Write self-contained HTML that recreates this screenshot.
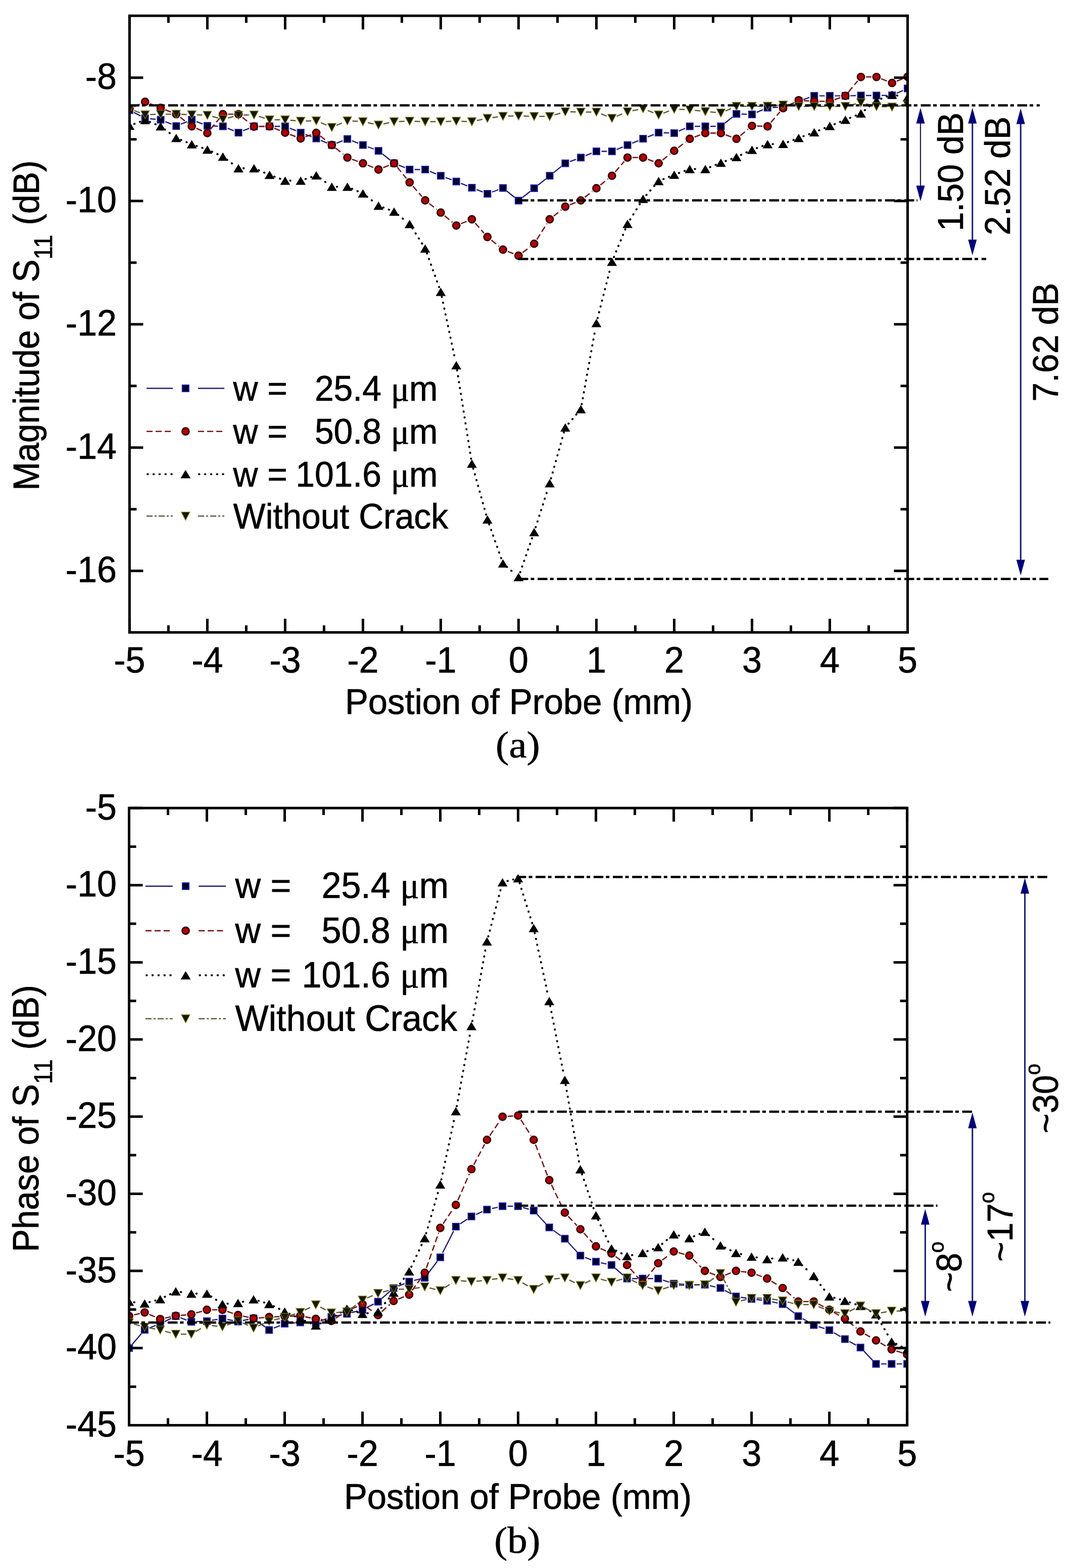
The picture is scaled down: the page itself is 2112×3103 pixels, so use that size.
<!DOCTYPE html>
<html><head><meta charset="utf-8"><title>S11 magnitude and phase vs probe position</title>
<style>html,body{margin:0;padding:0;background:#fff}svg{display:block}text{font-family:"Liberation Sans", Arial, sans-serif;fill:#000;stroke:#000;stroke-width:0.7px}</style></head>
<body><svg width="2112" height="3103" viewBox="0 0 2112 3103">
<rect width="2112" height="3103" fill="#fff"/>
<defs><clipPath id="ca"><rect x="256.4" y="31.2" width="1540.1" height="1220.3"/></clipPath><clipPath id="cb"><rect x="255.5" y="1599.1" width="1540.1" height="1221.4"/></clipPath></defs>
<g clip-path="url(#ca)">
<path d="M265.3,222.6L278.3,229.4M297.2,235.0L308.1,236.0M327.3,240.8L339.5,245.7M358.1,245.7L370.3,240.8M388.9,240.6L401.1,245.4M420.4,249.3L431.2,249.7M450.5,253.8L462.7,258.7M481.3,258.7L493.5,253.8M512.8,250.0L523.6,250.0M543.6,250.0L554.4,250.0M573.7,253.8L586.0,258.7M604.6,266.0L616.7,270.5M635.2,277.9L647.6,283.1M666.1,283.4L678.3,278.6M696.9,278.6L709.1,283.4M727.8,290.5L739.9,295.0M757.1,304.7L772.2,316.8M789.3,326.8L801.6,331.7M820.8,335.5L831.6,335.5M850.9,339.2L863.2,344.1M881.8,351.3L893.9,355.7M912.5,362.9L924.8,367.8M943.4,375.1L955.5,379.9M974.2,380.0L986.3,375.5M1003.4,378.3L1018.7,390.7M1034.3,390.8L1049.4,378.7M1065.1,366.2L1080.3,354.1M1095.9,341.6L1111.0,329.4M1128.2,319.7L1140.3,315.3M1158.9,308.1L1171.2,303.2M1190.5,299.5L1201.3,299.5M1220.5,295.8L1232.8,290.8M1251.3,283.3L1263.6,278.3M1282.2,270.8L1294.4,266.1M1313.7,262.7L1324.5,263.1M1343.6,259.4L1356.1,254.0M1375.3,250.0L1386.1,250.0M1406.1,250.0L1416.9,250.0M1434.7,243.8L1449.9,231.6M1467.7,225.7L1478.5,226.1M1497.7,222.4L1510.1,217.1M1529.3,212.7L1540.1,212.4M1559.4,208.4L1571.6,203.6M1590.4,196.8L1602.2,192.8M1621.7,189.6L1632.5,189.6M1652.5,189.6L1663.3,189.6M1683.3,189.4L1694.1,189.2M1714.1,189.0L1724.9,189.0M1744.9,188.9L1755.7,188.7M1774.8,184.6L1787.4,179.0" fill="none" stroke="#1e1e72" stroke-width="2.4"/>
<rect x="249.9" y="211.5" width="13" height="13" fill="#000028" stroke="#1a1aa8" stroke-width="2"/>
<rect x="280.7" y="227.5" width="13" height="13" fill="#000028" stroke="#1a1aa8" stroke-width="2"/>
<rect x="311.5" y="230.5" width="13" height="13" fill="#000028" stroke="#1a1aa8" stroke-width="2"/>
<rect x="342.3" y="243.0" width="13" height="13" fill="#000028" stroke="#1a1aa8" stroke-width="2"/>
<rect x="373.1" y="230.5" width="13" height="13" fill="#000028" stroke="#1a1aa8" stroke-width="2"/>
<rect x="403.9" y="242.5" width="13" height="13" fill="#000028" stroke="#1a1aa8" stroke-width="2"/>
<rect x="434.7" y="243.5" width="13" height="13" fill="#000028" stroke="#1a1aa8" stroke-width="2"/>
<rect x="465.5" y="256.0" width="13" height="13" fill="#000028" stroke="#1a1aa8" stroke-width="2"/>
<rect x="496.3" y="243.5" width="13" height="13" fill="#000028" stroke="#1a1aa8" stroke-width="2"/>
<rect x="527.1" y="243.5" width="13" height="13" fill="#000028" stroke="#1a1aa8" stroke-width="2"/>
<rect x="557.9" y="243.5" width="13" height="13" fill="#000028" stroke="#1a1aa8" stroke-width="2"/>
<rect x="588.7" y="256.0" width="13" height="13" fill="#000028" stroke="#1a1aa8" stroke-width="2"/>
<rect x="619.5" y="267.5" width="13" height="13" fill="#000028" stroke="#1a1aa8" stroke-width="2"/>
<rect x="650.3" y="280.5" width="13" height="13" fill="#000028" stroke="#1a1aa8" stroke-width="2"/>
<rect x="681.1" y="268.5" width="13" height="13" fill="#000028" stroke="#1a1aa8" stroke-width="2"/>
<rect x="711.9" y="280.5" width="13" height="13" fill="#000028" stroke="#1a1aa8" stroke-width="2"/>
<rect x="742.7" y="292.0" width="13" height="13" fill="#000028" stroke="#1a1aa8" stroke-width="2"/>
<rect x="773.5" y="316.5" width="13" height="13" fill="#000028" stroke="#1a1aa8" stroke-width="2"/>
<rect x="804.3" y="329.0" width="13" height="13" fill="#000028" stroke="#1a1aa8" stroke-width="2"/>
<rect x="835.1" y="329.0" width="13" height="13" fill="#000028" stroke="#1a1aa8" stroke-width="2"/>
<rect x="865.9" y="341.3" width="13" height="13" fill="#000028" stroke="#1a1aa8" stroke-width="2"/>
<rect x="896.7" y="352.7" width="13" height="13" fill="#000028" stroke="#1a1aa8" stroke-width="2"/>
<rect x="927.5" y="365.0" width="13" height="13" fill="#000028" stroke="#1a1aa8" stroke-width="2"/>
<rect x="958.3" y="377.0" width="13" height="13" fill="#000028" stroke="#1a1aa8" stroke-width="2"/>
<rect x="989.1" y="365.5" width="13" height="13" fill="#000028" stroke="#1a1aa8" stroke-width="2"/>
<rect x="1019.9" y="390.5" width="13" height="13" fill="#000028" stroke="#1a1aa8" stroke-width="2"/>
<rect x="1050.8" y="366.0" width="13" height="13" fill="#000028" stroke="#1a1aa8" stroke-width="2"/>
<rect x="1081.6" y="341.3" width="13" height="13" fill="#000028" stroke="#1a1aa8" stroke-width="2"/>
<rect x="1112.4" y="316.7" width="13" height="13" fill="#000028" stroke="#1a1aa8" stroke-width="2"/>
<rect x="1143.2" y="305.3" width="13" height="13" fill="#000028" stroke="#1a1aa8" stroke-width="2"/>
<rect x="1174.0" y="293.0" width="13" height="13" fill="#000028" stroke="#1a1aa8" stroke-width="2"/>
<rect x="1204.8" y="293.0" width="13" height="13" fill="#000028" stroke="#1a1aa8" stroke-width="2"/>
<rect x="1235.6" y="280.6" width="13" height="13" fill="#000028" stroke="#1a1aa8" stroke-width="2"/>
<rect x="1266.4" y="268.0" width="13" height="13" fill="#000028" stroke="#1a1aa8" stroke-width="2"/>
<rect x="1297.2" y="255.9" width="13" height="13" fill="#000028" stroke="#1a1aa8" stroke-width="2"/>
<rect x="1328.0" y="256.9" width="13" height="13" fill="#000028" stroke="#1a1aa8" stroke-width="2"/>
<rect x="1358.8" y="243.5" width="13" height="13" fill="#000028" stroke="#1a1aa8" stroke-width="2"/>
<rect x="1389.6" y="243.5" width="13" height="13" fill="#000028" stroke="#1a1aa8" stroke-width="2"/>
<rect x="1420.4" y="243.5" width="13" height="13" fill="#000028" stroke="#1a1aa8" stroke-width="2"/>
<rect x="1451.2" y="218.9" width="13" height="13" fill="#000028" stroke="#1a1aa8" stroke-width="2"/>
<rect x="1482.0" y="219.9" width="13" height="13" fill="#000028" stroke="#1a1aa8" stroke-width="2"/>
<rect x="1512.8" y="206.6" width="13" height="13" fill="#000028" stroke="#1a1aa8" stroke-width="2"/>
<rect x="1543.6" y="205.5" width="13" height="13" fill="#000028" stroke="#1a1aa8" stroke-width="2"/>
<rect x="1574.4" y="193.5" width="13" height="13" fill="#000028" stroke="#1a1aa8" stroke-width="2"/>
<rect x="1605.2" y="183.1" width="13" height="13" fill="#000028" stroke="#1a1aa8" stroke-width="2"/>
<rect x="1636.0" y="183.1" width="13" height="13" fill="#000028" stroke="#1a1aa8" stroke-width="2"/>
<rect x="1666.8" y="183.1" width="13" height="13" fill="#000028" stroke="#1a1aa8" stroke-width="2"/>
<rect x="1697.6" y="182.5" width="13" height="13" fill="#000028" stroke="#1a1aa8" stroke-width="2"/>
<rect x="1728.4" y="182.5" width="13" height="13" fill="#000028" stroke="#1a1aa8" stroke-width="2"/>
<rect x="1759.2" y="182.1" width="13" height="13" fill="#000028" stroke="#1a1aa8" stroke-width="2"/>
<rect x="1790.0" y="168.5" width="13" height="13" fill="#000028" stroke="#1a1aa8" stroke-width="2"/>
<path d="M265.6,211.0L278.0,205.5M296.5,205.1L308.7,209.9M327.3,217.3L339.5,222.2M356.7,232.1L371.7,243.9M388.8,254.0L401.2,259.4M416.8,255.7L434.9,233.7M451.2,226.0L462.0,226.0M479.8,232.2L495.0,244.3M512.8,250.3L523.6,250.2M542.9,253.8L555.2,258.7M573.8,266.0L585.9,270.5M604.6,270.6L616.6,266.4M633.9,269.1L648.9,280.9M664.6,293.3L679.8,305.5M697.0,315.3L709.1,319.7M727.7,326.9L739.9,331.8M758.5,331.8L770.7,326.9M786.4,331.0L804.5,353.2M817.4,368.6L835.1,388.9M849.5,402.7L864.6,414.5M880.1,427.1L895.6,439.9M912.5,442.6L924.8,437.7M940.7,441.5L958.2,461.5M972.6,475.3L987.9,487.7M1005.0,497.6L1017.1,502.4M1034.4,499.9L1049.3,488.5M1062.6,474.0L1082.7,442.4M1095.8,427.7L1111.1,415.3M1128.1,405.3L1140.4,400.3M1157.5,390.4L1172.6,378.7M1188.3,366.2L1203.5,354.1M1217.8,340.2L1235.6,319.4M1252.1,311.8L1262.9,311.8M1282.3,315.2L1294.3,319.7M1311.5,316.8L1326.7,304.7M1342.4,292.3L1357.3,280.8M1374.7,271.3L1386.7,266.8M1406.1,263.4L1416.9,263.4M1436.3,266.8L1448.3,271.3M1465.4,268.3L1480.8,255.5M1498.5,249.4L1509.3,249.7M1525.8,242.4L1543.6,221.6M1559.0,209.5L1572.0,203.0M1590.9,199.1L1601.7,199.9M1621.7,200.5L1632.5,200.5M1651.9,197.2L1663.9,192.9M1679.7,181.9L1697.7,160.0M1714.1,152.3L1724.9,152.3M1744.2,155.9L1756.4,160.6M1775.0,160.5L1787.2,155.7" fill="none" stroke="#781818" stroke-width="2.6" stroke-dasharray="12 6"/>
<circle cx="256.4" cy="215.0" r="7" fill="#b40000" stroke="#340000" stroke-width="2.8"/>
<circle cx="287.2" cy="201.5" r="7" fill="#b40000" stroke="#340000" stroke-width="2.8"/>
<circle cx="318.0" cy="213.5" r="7" fill="#b40000" stroke="#340000" stroke-width="2.8"/>
<circle cx="348.8" cy="226.0" r="7" fill="#b40000" stroke="#340000" stroke-width="2.8"/>
<circle cx="379.6" cy="250.0" r="7" fill="#b40000" stroke="#340000" stroke-width="2.8"/>
<circle cx="410.4" cy="263.4" r="7" fill="#b40000" stroke="#340000" stroke-width="2.8"/>
<circle cx="441.2" cy="226.0" r="7" fill="#b40000" stroke="#340000" stroke-width="2.8"/>
<circle cx="472.0" cy="226.0" r="7" fill="#b40000" stroke="#340000" stroke-width="2.8"/>
<circle cx="502.8" cy="250.5" r="7" fill="#b40000" stroke="#340000" stroke-width="2.8"/>
<circle cx="533.6" cy="250.0" r="7" fill="#b40000" stroke="#340000" stroke-width="2.8"/>
<circle cx="564.4" cy="262.5" r="7" fill="#b40000" stroke="#340000" stroke-width="2.8"/>
<circle cx="595.2" cy="274.0" r="7" fill="#b40000" stroke="#340000" stroke-width="2.8"/>
<circle cx="626.0" cy="263.0" r="7" fill="#b40000" stroke="#340000" stroke-width="2.8"/>
<circle cx="656.8" cy="287.0" r="7" fill="#b40000" stroke="#340000" stroke-width="2.8"/>
<circle cx="687.6" cy="311.8" r="7" fill="#b40000" stroke="#340000" stroke-width="2.8"/>
<circle cx="718.4" cy="323.2" r="7" fill="#b40000" stroke="#340000" stroke-width="2.8"/>
<circle cx="749.2" cy="335.5" r="7" fill="#b40000" stroke="#340000" stroke-width="2.8"/>
<circle cx="780.0" cy="323.2" r="7" fill="#b40000" stroke="#340000" stroke-width="2.8"/>
<circle cx="810.8" cy="361.0" r="7" fill="#b40000" stroke="#340000" stroke-width="2.8"/>
<circle cx="841.6" cy="396.5" r="7" fill="#b40000" stroke="#340000" stroke-width="2.8"/>
<circle cx="872.4" cy="420.7" r="7" fill="#b40000" stroke="#340000" stroke-width="2.8"/>
<circle cx="903.2" cy="446.3" r="7" fill="#b40000" stroke="#340000" stroke-width="2.8"/>
<circle cx="934.0" cy="434.0" r="7" fill="#b40000" stroke="#340000" stroke-width="2.8"/>
<circle cx="964.8" cy="469.0" r="7" fill="#b40000" stroke="#340000" stroke-width="2.8"/>
<circle cx="995.6" cy="494.0" r="7" fill="#b40000" stroke="#340000" stroke-width="2.8"/>
<circle cx="1026.4" cy="506.0" r="7" fill="#b40000" stroke="#340000" stroke-width="2.8"/>
<circle cx="1057.3" cy="482.4" r="7" fill="#b40000" stroke="#340000" stroke-width="2.8"/>
<circle cx="1088.1" cy="434.0" r="7" fill="#b40000" stroke="#340000" stroke-width="2.8"/>
<circle cx="1118.9" cy="409.0" r="7" fill="#b40000" stroke="#340000" stroke-width="2.8"/>
<circle cx="1149.7" cy="396.6" r="7" fill="#b40000" stroke="#340000" stroke-width="2.8"/>
<circle cx="1180.5" cy="372.5" r="7" fill="#b40000" stroke="#340000" stroke-width="2.8"/>
<circle cx="1211.3" cy="347.8" r="7" fill="#b40000" stroke="#340000" stroke-width="2.8"/>
<circle cx="1242.1" cy="311.8" r="7" fill="#b40000" stroke="#340000" stroke-width="2.8"/>
<circle cx="1272.9" cy="311.8" r="7" fill="#b40000" stroke="#340000" stroke-width="2.8"/>
<circle cx="1303.7" cy="323.1" r="7" fill="#b40000" stroke="#340000" stroke-width="2.8"/>
<circle cx="1334.5" cy="298.4" r="7" fill="#b40000" stroke="#340000" stroke-width="2.8"/>
<circle cx="1365.3" cy="274.7" r="7" fill="#b40000" stroke="#340000" stroke-width="2.8"/>
<circle cx="1396.1" cy="263.4" r="7" fill="#b40000" stroke="#340000" stroke-width="2.8"/>
<circle cx="1426.9" cy="263.4" r="7" fill="#b40000" stroke="#340000" stroke-width="2.8"/>
<circle cx="1457.7" cy="274.7" r="7" fill="#b40000" stroke="#340000" stroke-width="2.8"/>
<circle cx="1488.5" cy="249.1" r="7" fill="#b40000" stroke="#340000" stroke-width="2.8"/>
<circle cx="1519.3" cy="250.0" r="7" fill="#b40000" stroke="#340000" stroke-width="2.8"/>
<circle cx="1550.1" cy="214.0" r="7" fill="#b40000" stroke="#340000" stroke-width="2.8"/>
<circle cx="1580.9" cy="198.5" r="7" fill="#b40000" stroke="#340000" stroke-width="2.8"/>
<circle cx="1611.7" cy="200.5" r="7" fill="#b40000" stroke="#340000" stroke-width="2.8"/>
<circle cx="1642.5" cy="200.5" r="7" fill="#b40000" stroke="#340000" stroke-width="2.8"/>
<circle cx="1673.3" cy="189.6" r="7" fill="#b40000" stroke="#340000" stroke-width="2.8"/>
<circle cx="1704.1" cy="152.3" r="7" fill="#b40000" stroke="#340000" stroke-width="2.8"/>
<circle cx="1734.9" cy="152.3" r="7" fill="#b40000" stroke="#340000" stroke-width="2.8"/>
<circle cx="1765.7" cy="164.2" r="7" fill="#b40000" stroke="#340000" stroke-width="2.8"/>
<circle cx="1796.5" cy="152.0" r="7" fill="#b40000" stroke="#340000" stroke-width="2.8"/>
<path d="M265.8,245.3L277.8,240.9M296.5,241.3L308.7,246.2M326.0,256.0L340.8,267.0M358.1,276.8L370.4,281.8M389.1,288.8L400.9,292.8M419.5,300.1L432.1,305.9M449.2,316.0L464.0,327.0M482.0,333.0L492.8,333.0M512.0,336.9L524.4,342.1M543.0,349.5L555.1,354.0M574.4,357.5L585.2,357.5M604.7,354.3L616.6,350.2M634.1,352.9L648.8,363.7M666.8,369.6L677.6,369.6M696.8,373.5L709.2,378.9M726.3,389.0L741.4,400.8M758.6,410.6L770.7,415.2M787.8,425.0L803.0,437.2M816.2,451.8L836.3,483.4M845.0,501.2L869.1,568.1M874.5,587.3L901.2,712.9M904.8,732.6L932.5,907.7M936.7,927.2L962.2,1018.4M968.2,1037.4L992.3,1105.6M1003.2,1121.6L1018.9,1135.4M1029.7,1132.5L1054.0,1062.5M1060.3,1043.5L1085.0,965.9M1090.7,946.8L1116.2,855.6M1125.3,838.4L1143.2,817.3M1151.4,799.9L1178.7,649.1M1182.9,629.6L1208.8,527.7M1215.1,508.7L1238.3,452.3M1247.3,434.5L1267.6,402.0M1279.4,386.0L1297.1,365.7M1313.0,354.5L1325.2,349.6M1343.8,342.4L1355.9,338.0M1375.3,334.5L1386.1,334.5M1405.4,330.8L1417.6,325.8M1436.3,318.7L1448.3,314.2M1466.7,306.6L1479.4,300.7M1497.9,293.1L1509.9,288.6M1529.3,285.1L1540.1,284.9M1559.4,281.2L1571.5,276.6M1590.3,269.6L1602.3,265.1M1621.0,258.0L1633.2,253.1M1651.8,245.7L1664.0,240.7M1682.6,233.2L1694.8,228.3M1711.8,218.1L1727.2,205.4M1744.2,195.4L1756.3,190.9M1775.6,189.0L1786.6,190.9" fill="none" stroke="#000000" stroke-width="3.9" stroke-dasharray="0.6 11.2" stroke-linecap="round"/>
<path d="M256.4,240.4L266.3,256.9L246.5,256.9Z" fill="#000"/>
<path d="M287.2,229.2L297.1,245.7L277.3,245.7Z" fill="#000"/>
<path d="M318.0,241.7L327.9,258.2L308.1,258.2Z" fill="#000"/>
<path d="M348.8,264.7L358.7,281.2L338.9,281.2Z" fill="#000"/>
<path d="M379.6,277.3L389.5,293.8L369.7,293.8Z" fill="#000"/>
<path d="M410.4,287.7L420.3,304.2L400.5,304.2Z" fill="#000"/>
<path d="M441.2,301.7L451.1,318.2L431.3,318.2Z" fill="#000"/>
<path d="M472.0,324.7L481.9,341.2L462.1,341.2Z" fill="#000"/>
<path d="M502.8,324.7L512.7,341.2L492.9,341.2Z" fill="#000"/>
<path d="M533.6,337.7L543.5,354.2L523.7,354.2Z" fill="#000"/>
<path d="M564.4,349.2L574.3,365.7L554.5,365.7Z" fill="#000"/>
<path d="M595.2,349.2L605.1,365.7L585.3,365.7Z" fill="#000"/>
<path d="M626.0,338.7L635.9,355.2L616.1,355.2Z" fill="#000"/>
<path d="M656.8,361.3L666.7,377.8L646.9,377.8Z" fill="#000"/>
<path d="M687.6,361.3L697.5,377.8L677.7,377.8Z" fill="#000"/>
<path d="M718.4,374.5L728.3,391.0L708.5,391.0Z" fill="#000"/>
<path d="M749.2,398.7L759.1,415.2L739.3,415.2Z" fill="#000"/>
<path d="M780.0,410.5L789.9,427.0L770.1,427.0Z" fill="#000"/>
<path d="M810.8,435.1L820.7,451.6L800.9,451.6Z" fill="#000"/>
<path d="M841.6,483.5L851.5,500.0L831.7,500.0Z" fill="#000"/>
<path d="M872.4,569.2L882.3,585.7L862.5,585.7Z" fill="#000"/>
<path d="M903.2,714.4L913.1,730.9L893.3,730.9Z" fill="#000"/>
<path d="M934.0,909.3L943.9,925.8L924.1,925.8Z" fill="#000"/>
<path d="M964.8,1019.7L974.7,1036.2L954.9,1036.2Z" fill="#000"/>
<path d="M995.6,1106.7L1005.5,1123.2L985.7,1123.2Z" fill="#000"/>
<path d="M1026.4,1133.7L1036.3,1150.2L1016.5,1150.2Z" fill="#000"/>
<path d="M1057.3,1044.7L1067.2,1061.2L1047.4,1061.2Z" fill="#000"/>
<path d="M1088.1,948.1L1098.0,964.6L1078.2,964.6Z" fill="#000"/>
<path d="M1118.9,837.7L1128.8,854.2L1109.0,854.2Z" fill="#000"/>
<path d="M1149.7,801.4L1159.6,817.9L1139.8,817.9Z" fill="#000"/>
<path d="M1180.5,631.0L1190.4,647.5L1170.6,647.5Z" fill="#000"/>
<path d="M1211.3,509.7L1221.2,526.2L1201.4,526.2Z" fill="#000"/>
<path d="M1242.1,434.7L1252.0,451.2L1232.2,451.2Z" fill="#000"/>
<path d="M1272.9,385.2L1282.8,401.7L1263.0,401.7Z" fill="#000"/>
<path d="M1303.7,349.9L1313.6,366.4L1293.8,366.4Z" fill="#000"/>
<path d="M1334.5,337.6L1344.4,354.1L1324.6,354.1Z" fill="#000"/>
<path d="M1365.3,326.2L1375.2,342.7L1355.4,342.7Z" fill="#000"/>
<path d="M1396.1,326.2L1406.0,342.7L1386.2,342.7Z" fill="#000"/>
<path d="M1426.9,313.8L1436.8,330.3L1417.0,330.3Z" fill="#000"/>
<path d="M1457.7,302.5L1467.6,319.0L1447.8,319.0Z" fill="#000"/>
<path d="M1488.5,288.2L1498.4,304.7L1478.6,304.7Z" fill="#000"/>
<path d="M1519.3,276.9L1529.2,293.4L1509.4,293.4Z" fill="#000"/>
<path d="M1550.1,276.5L1560.0,293.0L1540.2,293.0Z" fill="#000"/>
<path d="M1580.9,264.7L1590.8,281.2L1571.0,281.2Z" fill="#000"/>
<path d="M1611.7,253.4L1621.6,269.9L1601.8,269.9Z" fill="#000"/>
<path d="M1642.5,241.1L1652.4,257.6L1632.6,257.6Z" fill="#000"/>
<path d="M1673.3,228.7L1683.2,245.2L1663.4,245.2Z" fill="#000"/>
<path d="M1704.1,216.2L1714.0,232.7L1694.2,232.7Z" fill="#000"/>
<path d="M1734.9,190.7L1744.8,207.2L1725.0,207.2Z" fill="#000"/>
<path d="M1765.7,179.0L1775.6,195.5L1755.8,195.5Z" fill="#000"/>
<path d="M1796.5,184.3L1806.4,200.8L1786.6,200.8Z" fill="#000"/>
<path d="M265.8,218.9L277.8,223.5M297.2,226.7L308.0,226.3M328.0,226.0L338.8,226.0M358.8,226.3L369.6,226.7M389.6,227.3L400.4,227.7M420.1,230.5L431.5,233.5M450.9,233.5L462.3,230.5M482.0,227.8L492.8,227.6M512.4,230.4L524.1,234.0M543.6,237.0L554.4,237.0M574.4,237.9L585.3,238.8M605.2,239.5L616.0,239.2M635.2,242.9L647.6,248.1M666.0,248.1L678.4,242.9M697.6,239.6L708.4,240.1M728.2,242.8L739.5,245.2M759.0,245.2L770.3,242.8M790.0,240.4L800.8,240.0M820.8,240.0L831.6,240.4M851.6,240.7L862.4,240.7M882.4,240.4L893.2,240.0M913.2,240.0L924.0,240.4M943.8,238.6L955.1,236.1M974.8,232.7L985.7,231.3M1005.6,229.8L1016.5,229.5M1036.4,229.6L1047.3,230.0M1067.3,230.3L1078.1,230.3M1097.6,227.4L1109.3,223.9M1128.9,221.2L1139.7,221.5M1159.7,221.7L1170.5,221.7M1189.7,225.4L1202.0,230.3M1220.5,230.1L1232.9,224.9M1251.9,219.1L1263.1,216.9M1282.2,218.7L1294.4,223.6M1313.1,223.9L1325.1,219.4M1344.5,216.3L1355.3,216.7M1375.2,218.2L1386.1,219.5M1406.0,221.6L1416.9,222.6M1436.1,219.6L1448.5,214.2M1467.7,210.3L1478.5,210.3M1498.5,210.2L1509.3,210.1M1529.3,209.3L1540.1,208.4M1560.0,208.6L1570.9,209.6M1590.9,210.5L1601.7,210.5M1621.7,210.5L1632.5,210.5M1652.5,210.5L1663.3,210.5M1683.0,208.2L1694.4,205.5M1713.8,205.6L1725.2,208.3M1744.9,211.0L1755.7,211.3M1775.6,210.3L1786.6,208.9" fill="none" stroke="#5e5e38" stroke-width="2.5" stroke-dasharray="12 4 4 4"/>
<path d="M256.4,223.6L264.8,207.6L248.0,207.6Z" fill="#161600" stroke="#7d7d12" stroke-width="1.3"/>
<path d="M287.2,235.2L295.6,219.2L278.8,219.2Z" fill="#161600" stroke="#7d7d12" stroke-width="1.3"/>
<path d="M318.0,234.2L326.4,218.2L309.6,218.2Z" fill="#161600" stroke="#7d7d12" stroke-width="1.3"/>
<path d="M348.8,234.2L357.2,218.2L340.4,218.2Z" fill="#161600" stroke="#7d7d12" stroke-width="1.3"/>
<path d="M379.6,235.2L388.0,219.2L371.2,219.2Z" fill="#161600" stroke="#7d7d12" stroke-width="1.3"/>
<path d="M410.4,236.2L418.8,220.2L402.0,220.2Z" fill="#161600" stroke="#7d7d12" stroke-width="1.3"/>
<path d="M441.2,244.2L449.6,228.2L432.8,228.2Z" fill="#161600" stroke="#7d7d12" stroke-width="1.3"/>
<path d="M472.0,236.2L480.4,220.2L463.6,220.2Z" fill="#161600" stroke="#7d7d12" stroke-width="1.3"/>
<path d="M502.8,235.6L511.2,219.6L494.4,219.6Z" fill="#161600" stroke="#7d7d12" stroke-width="1.3"/>
<path d="M533.6,245.2L542.0,229.2L525.2,229.2Z" fill="#161600" stroke="#7d7d12" stroke-width="1.3"/>
<path d="M564.4,245.2L572.8,229.2L556.0,229.2Z" fill="#161600" stroke="#7d7d12" stroke-width="1.3"/>
<path d="M595.2,247.9L603.6,231.9L586.8,231.9Z" fill="#161600" stroke="#7d7d12" stroke-width="1.3"/>
<path d="M626.0,247.2L634.4,231.2L617.6,231.2Z" fill="#161600" stroke="#7d7d12" stroke-width="1.3"/>
<path d="M656.8,260.2L665.2,244.2L648.4,244.2Z" fill="#161600" stroke="#7d7d12" stroke-width="1.3"/>
<path d="M687.6,247.2L696.0,231.2L679.2,231.2Z" fill="#161600" stroke="#7d7d12" stroke-width="1.3"/>
<path d="M718.4,248.9L726.8,232.9L710.0,232.9Z" fill="#161600" stroke="#7d7d12" stroke-width="1.3"/>
<path d="M749.2,255.5L757.6,239.5L740.8,239.5Z" fill="#161600" stroke="#7d7d12" stroke-width="1.3"/>
<path d="M780.0,248.9L788.4,232.9L771.6,232.9Z" fill="#161600" stroke="#7d7d12" stroke-width="1.3"/>
<path d="M810.8,247.9L819.2,231.9L802.4,231.9Z" fill="#161600" stroke="#7d7d12" stroke-width="1.3"/>
<path d="M841.6,248.9L850.0,232.9L833.2,232.9Z" fill="#161600" stroke="#7d7d12" stroke-width="1.3"/>
<path d="M872.4,248.9L880.8,232.9L864.0,232.9Z" fill="#161600" stroke="#7d7d12" stroke-width="1.3"/>
<path d="M903.2,247.9L911.6,231.9L894.8,231.9Z" fill="#161600" stroke="#7d7d12" stroke-width="1.3"/>
<path d="M934.0,248.9L942.4,232.9L925.6,232.9Z" fill="#161600" stroke="#7d7d12" stroke-width="1.3"/>
<path d="M964.8,242.2L973.2,226.2L956.4,226.2Z" fill="#161600" stroke="#7d7d12" stroke-width="1.3"/>
<path d="M995.6,238.2L1004.0,222.2L987.2,222.2Z" fill="#161600" stroke="#7d7d12" stroke-width="1.3"/>
<path d="M1026.4,237.5L1034.8,221.5L1018.0,221.5Z" fill="#161600" stroke="#7d7d12" stroke-width="1.3"/>
<path d="M1057.3,238.5L1065.7,222.5L1048.9,222.5Z" fill="#161600" stroke="#7d7d12" stroke-width="1.3"/>
<path d="M1088.1,238.5L1096.5,222.5L1079.7,222.5Z" fill="#161600" stroke="#7d7d12" stroke-width="1.3"/>
<path d="M1118.9,229.2L1127.3,213.2L1110.5,213.2Z" fill="#161600" stroke="#7d7d12" stroke-width="1.3"/>
<path d="M1149.7,229.9L1158.1,213.9L1141.3,213.9Z" fill="#161600" stroke="#7d7d12" stroke-width="1.3"/>
<path d="M1180.5,229.9L1188.9,213.9L1172.1,213.9Z" fill="#161600" stroke="#7d7d12" stroke-width="1.3"/>
<path d="M1211.3,242.2L1219.7,226.2L1202.9,226.2Z" fill="#161600" stroke="#7d7d12" stroke-width="1.3"/>
<path d="M1242.1,229.2L1250.5,213.2L1233.7,213.2Z" fill="#161600" stroke="#7d7d12" stroke-width="1.3"/>
<path d="M1272.9,223.2L1281.3,207.2L1264.5,207.2Z" fill="#161600" stroke="#7d7d12" stroke-width="1.3"/>
<path d="M1303.7,235.5L1312.1,219.5L1295.3,219.5Z" fill="#161600" stroke="#7d7d12" stroke-width="1.3"/>
<path d="M1334.5,224.2L1342.9,208.2L1326.1,208.2Z" fill="#161600" stroke="#7d7d12" stroke-width="1.3"/>
<path d="M1365.3,225.2L1373.7,209.2L1356.9,209.2Z" fill="#161600" stroke="#7d7d12" stroke-width="1.3"/>
<path d="M1396.1,228.9L1404.5,212.9L1387.7,212.9Z" fill="#161600" stroke="#7d7d12" stroke-width="1.3"/>
<path d="M1426.9,231.7L1435.3,215.7L1418.5,215.7Z" fill="#161600" stroke="#7d7d12" stroke-width="1.3"/>
<path d="M1457.7,218.5L1466.1,202.5L1449.3,202.5Z" fill="#161600" stroke="#7d7d12" stroke-width="1.3"/>
<path d="M1488.5,218.5L1496.9,202.5L1480.1,202.5Z" fill="#161600" stroke="#7d7d12" stroke-width="1.3"/>
<path d="M1519.3,218.2L1527.7,202.2L1510.9,202.2Z" fill="#161600" stroke="#7d7d12" stroke-width="1.3"/>
<path d="M1550.1,215.9L1558.5,199.9L1541.7,199.9Z" fill="#161600" stroke="#7d7d12" stroke-width="1.3"/>
<path d="M1580.9,218.7L1589.3,202.7L1572.5,202.7Z" fill="#161600" stroke="#7d7d12" stroke-width="1.3"/>
<path d="M1611.7,218.7L1620.1,202.7L1603.3,202.7Z" fill="#161600" stroke="#7d7d12" stroke-width="1.3"/>
<path d="M1642.5,218.7L1650.9,202.7L1634.1,202.7Z" fill="#161600" stroke="#7d7d12" stroke-width="1.3"/>
<path d="M1673.3,218.7L1681.7,202.7L1664.9,202.7Z" fill="#161600" stroke="#7d7d12" stroke-width="1.3"/>
<path d="M1704.1,211.4L1712.5,195.4L1695.7,195.4Z" fill="#161600" stroke="#7d7d12" stroke-width="1.3"/>
<path d="M1734.9,218.9L1743.3,202.9L1726.5,202.9Z" fill="#161600" stroke="#7d7d12" stroke-width="1.3"/>
<path d="M1765.7,219.8L1774.1,203.8L1757.3,203.8Z" fill="#161600" stroke="#7d7d12" stroke-width="1.3"/>
<path d="M1796.5,215.8L1804.9,199.8L1788.1,199.8Z" fill="#161600" stroke="#7d7d12" stroke-width="1.3"/>
</g>
<rect x="256.4" y="31.2" width="1540.1" height="1220.3" fill="none" stroke="#000" stroke-width="5"/>
<path d="M256.4,1251.5v-27M256.4,31.2v27M410.4,1251.5v-27M410.4,31.2v27M564.4,1251.5v-27M564.4,31.2v27M718.4,1251.5v-27M718.4,31.2v27M872.4,1251.5v-27M872.4,31.2v27M1026.4,1251.5v-27M1026.4,31.2v27M1180.5,1251.5v-27M1180.5,31.2v27M1334.5,1251.5v-27M1334.5,31.2v27M1488.5,1251.5v-27M1488.5,31.2v27M1642.5,1251.5v-27M1642.5,31.2v27M1796.5,1251.5v-27M1796.5,31.2v27M333.4,1251.5v-14M333.4,31.2v14M487.4,1251.5v-14M487.4,31.2v14M641.4,1251.5v-14M641.4,31.2v14M795.4,1251.5v-14M795.4,31.2v14M949.4,1251.5v-14M949.4,31.2v14M1103.5,1251.5v-14M1103.5,31.2v14M1257.5,1251.5v-14M1257.5,31.2v14M1411.5,1251.5v-14M1411.5,31.2v14M1565.5,1251.5v-14M1565.5,31.2v14M1719.5,1251.5v-14M1719.5,31.2v14M256.4,153.7h27M1796.5,153.7h-27M256.4,397.7h27M1796.5,397.7h-27M256.4,641.7h27M1796.5,641.7h-27M256.4,885.7h27M1796.5,885.7h-27M256.4,1129.7h27M1796.5,1129.7h-27M256.4,275.7h14M1796.5,275.7h-14M256.4,519.7h14M1796.5,519.7h-14M256.4,763.7h14M1796.5,763.7h-14M256.4,1007.7h14M1796.5,1007.7h-14" stroke="#000" stroke-width="5" fill="none"/>
<text transform="translate(231.0,176.2) scale(1.0,1.04)" font-size="70" text-anchor="end">-8</text>
<text transform="translate(231.0,420.2) scale(1.0,1.04)" font-size="70" text-anchor="end">-10</text>
<text transform="translate(231.0,664.2) scale(1.0,1.04)" font-size="70" text-anchor="end">-12</text>
<text transform="translate(231.0,908.2) scale(1.0,1.04)" font-size="70" text-anchor="end">-14</text>
<text transform="translate(231.0,1152.2) scale(1.0,1.04)" font-size="70" text-anchor="end">-16</text>
<text transform="translate(256.4,1331.0) scale(1.0,1.04)" font-size="70" text-anchor="middle">-5</text>
<text transform="translate(410.4,1331.0) scale(1.0,1.04)" font-size="70" text-anchor="middle">-4</text>
<text transform="translate(564.4,1331.0) scale(1.0,1.04)" font-size="70" text-anchor="middle">-3</text>
<text transform="translate(718.4,1331.0) scale(1.0,1.04)" font-size="70" text-anchor="middle">-2</text>
<text transform="translate(872.4,1331.0) scale(1.0,1.04)" font-size="70" text-anchor="middle">-1</text>
<text transform="translate(1026.4,1331.0) scale(1.0,1.04)" font-size="70" text-anchor="middle">0</text>
<text transform="translate(1180.5,1331.0) scale(1.0,1.04)" font-size="70" text-anchor="middle">1</text>
<text transform="translate(1334.5,1331.0) scale(1.0,1.04)" font-size="70" text-anchor="middle">2</text>
<text transform="translate(1488.5,1331.0) scale(1.0,1.04)" font-size="70" text-anchor="middle">3</text>
<text transform="translate(1642.5,1331.0) scale(1.0,1.04)" font-size="70" text-anchor="middle">4</text>
<text transform="translate(1796.5,1331.0) scale(1.0,1.04)" font-size="70" text-anchor="middle">5</text>
<text transform="translate(1027.0,1412.8) scale(1.0,1.03)" font-size="68.8" text-anchor="middle">Postion of Probe (mm)</text>
<text transform="translate(1025.0,1499.3) scale(1.055,1.0)" font-size="75" text-anchor="middle" style="font-family:'Liberation Serif', 'Times New Roman', serif">(a)</text>
<text transform="translate(76.8,644.0) rotate(-90) scale(1.0,1.06)" font-size="68" text-anchor="middle">Magnitude of S<tspan font-size="47" dy="25">11</tspan><tspan dy="-25"> (dB)</tspan></text>
<path d="M256.4,208.5H2058.0" stroke="#000" stroke-width="4.6" stroke-dasharray="19.5 5 7 6.7"/>
<path d="M1026.0,396.5H1816.0" stroke="#000" stroke-width="4.6" stroke-dasharray="19.5 5 7 6.7"/>
<path d="M1026.0,512.5H1952.0" stroke="#000" stroke-width="4.6" stroke-dasharray="19.5 5 7 6.7"/>
<path d="M1026.0,1145.7H2075.0" stroke="#000" stroke-width="4.6" stroke-dasharray="19.5 5 7 6.7"/>
<path d="M1822,242.6V369.3" stroke="#202040" stroke-width="2.2"/>
<path d="M1822,213.6L1830.5,244.6L1813.5,244.6Z" fill="#00007a"/>
<path d="M1822,398.3L1830.5,367.3L1813.5,367.3Z" fill="#00007a"/>
<path d="M1924.8,242.6V476.3" stroke="#1c1c6c" stroke-width="3"/>
<path d="M1924.8,213.6L1933.3,244.6L1916.3,244.6Z" fill="#00007a"/>
<path d="M1924.8,505.3L1933.3,474.3L1916.3,474.3Z" fill="#00007a"/>
<path d="M2020.3,243.6V1109.8" stroke="#1c1c6c" stroke-width="3"/>
<path d="M2020.3,214.6L2028.8,245.6L2011.8,245.6Z" fill="#00007a"/>
<path d="M2020.3,1138.8L2028.8,1107.8L2011.8,1107.8Z" fill="#00007a"/>
<text transform="translate(1906.0,340.0) rotate(-90) scale(1.0,1.04)" font-size="68.2" text-anchor="middle">1.50 dB</text>
<text transform="translate(1999.0,348.0) rotate(-90) scale(1.0,1.04)" font-size="68.2" text-anchor="middle">2.52 dB</text>
<text transform="translate(2094.0,677.3) rotate(-90) scale(1.0,1.04)" font-size="68.2" text-anchor="middle">7.62 dB</text>
<path d="M290,768.5H342M392,768.5H444" stroke="#1e1e72" stroke-width="2.4"/>
<rect x="360.8" y="762.0" width="13" height="13" fill="#000028" stroke="#1a1aa8" stroke-width="2"/>
<text transform="translate(461.5,792.8) scale(1.0,1.04)" font-size="67.8" text-anchor="start">w =</text>
<text transform="translate(866.5,792.8) scale(1.0,1.04)" font-size="67.8" text-anchor="end">25.4 <tspan style="font-family:'Liberation Serif', 'Times New Roman', serif">μ</tspan>m</text>
<path d="M290,853.7H342M392,853.7H444" stroke="#781818" stroke-width="2.6" stroke-dasharray="12 6"/>
<circle cx="367.3" cy="853.7" r="7" fill="#b40000" stroke="#340000" stroke-width="2.8"/>
<text transform="translate(461.5,878.0) scale(1.0,1.04)" font-size="67.8" text-anchor="start">w =</text>
<text transform="translate(866.5,878.0) scale(1.0,1.04)" font-size="67.8" text-anchor="end">50.8 <tspan style="font-family:'Liberation Serif', 'Times New Roman', serif">μ</tspan>m</text>
<path d="M290,938.4H342M392,938.4H444" stroke="#000000" stroke-width="3.9" stroke-dasharray="0.6 11.2" stroke-linecap="round" stroke-dashoffset="-2"/>
<path d="M367.3,930.1L377.2,946.6L357.4,946.6Z" fill="#000"/>
<text transform="translate(461.5,962.7) scale(1.0,1.04)" font-size="67.8" text-anchor="start">w =</text>
<text transform="translate(866.5,962.7) scale(1.0,1.04)" font-size="67.8" text-anchor="end">101.6 <tspan style="font-family:'Liberation Serif', 'Times New Roman', serif">μ</tspan>m</text>
<path d="M290,1021.2H342M392,1021.2H444" stroke="#5e5e38" stroke-width="2.5" stroke-dasharray="12 4 4 4"/>
<path d="M367.3,1029.4L375.7,1013.4L358.9,1013.4Z" fill="#161600" stroke="#7d7d12" stroke-width="1.3"/>
<text transform="translate(461.5,1045.5) scale(1.0,1.04)" font-size="67.8" text-anchor="start">Without Crack</text>
<g clip-path="url(#cb)">
<path d="M262.0,2660.1L279.8,2639.3M295.6,2628.0L307.8,2623.2M326.1,2615.1L338.9,2608.9M357.3,2607.9L369.3,2612.4M388.7,2615.4L399.5,2615.0M419.4,2612.9L430.5,2611.0M450.1,2611.2L461.3,2613.4M480.9,2613.3L492.1,2611.0M509.9,2615.0L524.7,2626.0M542.0,2628.2L554.3,2623.3M573.5,2618.7L584.4,2617.8M604.3,2617.3L615.1,2617.7M634.4,2614.4L646.6,2609.6M665.7,2604.1L676.9,2601.9M696.4,2597.5L707.9,2594.5M726.4,2587.4L739.5,2580.6M755.9,2569.4L771.6,2555.6M788.4,2545.2L800.7,2540.1M819.6,2533.9L831.0,2531.1M846.8,2520.7L865.5,2496.2M876.1,2479.3L897.8,2436.4M910.7,2422.0L924.8,2412.8M942.3,2403.3L954.8,2397.7M973.7,2391.6L985.0,2389.1M1004.7,2387.0L1015.5,2387.0M1035.2,2389.7L1046.7,2393.0M1063.1,2403.0L1080.4,2421.7M1095.3,2434.9L1109.9,2445.4M1124.7,2458.7L1142.0,2477.3M1158.1,2488.4L1170.3,2493.1M1189.3,2498.9L1200.6,2501.3M1217.9,2510.0L1233.6,2523.6M1251.2,2530.2L1262.0,2530.2M1282.0,2530.2L1292.8,2530.2M1312.3,2533.3L1324.1,2537.2M1343.5,2540.9L1354.4,2541.7M1374.4,2542.3L1385.2,2542.3M1405.0,2544.4L1416.2,2546.8M1434.8,2553.7L1448.0,2560.8M1466.6,2567.2L1477.7,2569.0M1497.5,2571.8L1508.4,2573.0M1528.2,2576.3L1539.4,2578.7M1557.1,2586.9L1572.1,2598.4M1588.7,2609.5L1602.1,2617.2M1620.3,2625.3L1632.1,2629.2M1650.3,2637.3L1663.7,2645.0M1681.2,2654.8L1694.4,2661.9M1710.1,2673.9L1727.1,2691.9M1744.0,2699.1L1754.8,2699.1M1774.8,2699.1L1785.6,2699.1" fill="none" stroke="#1e1e72" stroke-width="2.4"/>
<rect x="249.0" y="2661.2" width="13" height="13" fill="#000028" stroke="#1a1aa8" stroke-width="2"/>
<rect x="279.8" y="2625.2" width="13" height="13" fill="#000028" stroke="#1a1aa8" stroke-width="2"/>
<rect x="310.6" y="2613.0" width="13" height="13" fill="#000028" stroke="#1a1aa8" stroke-width="2"/>
<rect x="341.4" y="2598.0" width="13" height="13" fill="#000028" stroke="#1a1aa8" stroke-width="2"/>
<rect x="372.2" y="2609.3" width="13" height="13" fill="#000028" stroke="#1a1aa8" stroke-width="2"/>
<rect x="403.0" y="2608.1" width="13" height="13" fill="#000028" stroke="#1a1aa8" stroke-width="2"/>
<rect x="433.8" y="2602.8" width="13" height="13" fill="#000028" stroke="#1a1aa8" stroke-width="2"/>
<rect x="464.6" y="2608.8" width="13" height="13" fill="#000028" stroke="#1a1aa8" stroke-width="2"/>
<rect x="495.4" y="2602.5" width="13" height="13" fill="#000028" stroke="#1a1aa8" stroke-width="2"/>
<rect x="526.2" y="2625.5" width="13" height="13" fill="#000028" stroke="#1a1aa8" stroke-width="2"/>
<rect x="557.0" y="2613.0" width="13" height="13" fill="#000028" stroke="#1a1aa8" stroke-width="2"/>
<rect x="587.8" y="2610.5" width="13" height="13" fill="#000028" stroke="#1a1aa8" stroke-width="2"/>
<rect x="618.6" y="2611.5" width="13" height="13" fill="#000028" stroke="#1a1aa8" stroke-width="2"/>
<rect x="649.4" y="2599.5" width="13" height="13" fill="#000028" stroke="#1a1aa8" stroke-width="2"/>
<rect x="680.2" y="2593.5" width="13" height="13" fill="#000028" stroke="#1a1aa8" stroke-width="2"/>
<rect x="711.0" y="2585.5" width="13" height="13" fill="#000028" stroke="#1a1aa8" stroke-width="2"/>
<rect x="741.8" y="2569.5" width="13" height="13" fill="#000028" stroke="#1a1aa8" stroke-width="2"/>
<rect x="772.6" y="2542.5" width="13" height="13" fill="#000028" stroke="#1a1aa8" stroke-width="2"/>
<rect x="803.4" y="2529.8" width="13" height="13" fill="#000028" stroke="#1a1aa8" stroke-width="2"/>
<rect x="834.2" y="2522.2" width="13" height="13" fill="#000028" stroke="#1a1aa8" stroke-width="2"/>
<rect x="865.0" y="2481.7" width="13" height="13" fill="#000028" stroke="#1a1aa8" stroke-width="2"/>
<rect x="895.8" y="2421.0" width="13" height="13" fill="#000028" stroke="#1a1aa8" stroke-width="2"/>
<rect x="926.6" y="2400.8" width="13" height="13" fill="#000028" stroke="#1a1aa8" stroke-width="2"/>
<rect x="957.4" y="2387.2" width="13" height="13" fill="#000028" stroke="#1a1aa8" stroke-width="2"/>
<rect x="988.2" y="2380.5" width="13" height="13" fill="#000028" stroke="#1a1aa8" stroke-width="2"/>
<rect x="1019.0" y="2380.5" width="13" height="13" fill="#000028" stroke="#1a1aa8" stroke-width="2"/>
<rect x="1049.9" y="2389.2" width="13" height="13" fill="#000028" stroke="#1a1aa8" stroke-width="2"/>
<rect x="1080.7" y="2422.5" width="13" height="13" fill="#000028" stroke="#1a1aa8" stroke-width="2"/>
<rect x="1111.5" y="2444.8" width="13" height="13" fill="#000028" stroke="#1a1aa8" stroke-width="2"/>
<rect x="1142.3" y="2478.2" width="13" height="13" fill="#000028" stroke="#1a1aa8" stroke-width="2"/>
<rect x="1173.1" y="2490.3" width="13" height="13" fill="#000028" stroke="#1a1aa8" stroke-width="2"/>
<rect x="1203.9" y="2496.9" width="13" height="13" fill="#000028" stroke="#1a1aa8" stroke-width="2"/>
<rect x="1234.7" y="2523.7" width="13" height="13" fill="#000028" stroke="#1a1aa8" stroke-width="2"/>
<rect x="1265.5" y="2523.7" width="13" height="13" fill="#000028" stroke="#1a1aa8" stroke-width="2"/>
<rect x="1296.3" y="2523.7" width="13" height="13" fill="#000028" stroke="#1a1aa8" stroke-width="2"/>
<rect x="1327.1" y="2533.8" width="13" height="13" fill="#000028" stroke="#1a1aa8" stroke-width="2"/>
<rect x="1357.9" y="2535.8" width="13" height="13" fill="#000028" stroke="#1a1aa8" stroke-width="2"/>
<rect x="1388.7" y="2535.8" width="13" height="13" fill="#000028" stroke="#1a1aa8" stroke-width="2"/>
<rect x="1419.5" y="2542.4" width="13" height="13" fill="#000028" stroke="#1a1aa8" stroke-width="2"/>
<rect x="1450.3" y="2559.1" width="13" height="13" fill="#000028" stroke="#1a1aa8" stroke-width="2"/>
<rect x="1481.1" y="2564.1" width="13" height="13" fill="#000028" stroke="#1a1aa8" stroke-width="2"/>
<rect x="1511.9" y="2567.7" width="13" height="13" fill="#000028" stroke="#1a1aa8" stroke-width="2"/>
<rect x="1542.7" y="2574.3" width="13" height="13" fill="#000028" stroke="#1a1aa8" stroke-width="2"/>
<rect x="1573.5" y="2598.0" width="13" height="13" fill="#000028" stroke="#1a1aa8" stroke-width="2"/>
<rect x="1604.3" y="2615.7" width="13" height="13" fill="#000028" stroke="#1a1aa8" stroke-width="2"/>
<rect x="1635.1" y="2625.8" width="13" height="13" fill="#000028" stroke="#1a1aa8" stroke-width="2"/>
<rect x="1665.9" y="2643.5" width="13" height="13" fill="#000028" stroke="#1a1aa8" stroke-width="2"/>
<rect x="1696.7" y="2660.2" width="13" height="13" fill="#000028" stroke="#1a1aa8" stroke-width="2"/>
<rect x="1727.5" y="2692.6" width="13" height="13" fill="#000028" stroke="#1a1aa8" stroke-width="2"/>
<rect x="1758.3" y="2692.6" width="13" height="13" fill="#000028" stroke="#1a1aa8" stroke-width="2"/>
<rect x="1789.1" y="2692.6" width="13" height="13" fill="#000028" stroke="#1a1aa8" stroke-width="2"/>
<path d="M265.3,2602.1L276.6,2599.5M295.5,2601.2L307.9,2606.4M326.9,2608.3L338.1,2606.0M357.9,2603.1L368.7,2602.1M388.3,2598.3L399.9,2594.9M419.5,2592.0L430.3,2592.0M449.8,2595.2L461.6,2599.3M480.9,2604.6L492.1,2606.9M511.9,2608.2L522.8,2607.3M542.7,2606.0L553.5,2605.5M573.5,2604.7L584.3,2604.3M604.1,2605.9L615.3,2608.1M635.0,2611.3L646.0,2612.7M664.4,2608.6L678.3,2599.8M695.9,2590.4L708.4,2585.0M725.7,2586.7L740.1,2596.8M755.7,2595.8L771.7,2581.2M788.4,2570.7L800.7,2565.8M815.7,2553.8L835.0,2526.8M844.0,2509.2L868.3,2439.4M877.1,2421.7L896.7,2392.8M906.3,2375.3L929.1,2323.0M937.8,2305.0L959.3,2264.4M969.5,2247.3L989.2,2218.3M1004.7,2209.2L1015.6,2208.4M1031.0,2216.0L1051.0,2247.2M1059.9,2264.9L1083.6,2326.2M1091.5,2344.5L1113.6,2390.7M1124.8,2407.0L1141.9,2425.3M1155.5,2440.0L1172.8,2459.1M1188.7,2470.7L1201.3,2476.4M1218.4,2486.5L1233.1,2497.5M1247.7,2510.9L1265.4,2531.3M1278.2,2531.0L1296.6,2507.6M1310.8,2493.8L1325.6,2482.6M1343.2,2479.1L1354.7,2482.2M1371.5,2491.7L1388.0,2508.0M1404.5,2518.7L1416.7,2523.4M1435.3,2523.4L1447.5,2518.7M1466.7,2516.2L1477.6,2517.4M1496.9,2522.1L1509.0,2526.7M1526.9,2535.4L1540.6,2543.7M1556.7,2555.5L1572.4,2569.1M1590.0,2575.7L1600.8,2575.7M1619.6,2580.4L1632.7,2587.2M1650.3,2596.9L1663.7,2604.6M1680.1,2615.9L1695.5,2628.6M1711.9,2639.9L1725.3,2647.6M1742.7,2657.6L1756.1,2665.3M1774.3,2673.4L1786.1,2677.3" fill="none" stroke="#781818" stroke-width="2.6" stroke-dasharray="12 6"/>
<circle cx="255.5" cy="2604.3" r="7" fill="#b40000" stroke="#340000" stroke-width="2.8"/>
<circle cx="286.3" cy="2597.3" r="7" fill="#b40000" stroke="#340000" stroke-width="2.8"/>
<circle cx="317.1" cy="2610.3" r="7" fill="#b40000" stroke="#340000" stroke-width="2.8"/>
<circle cx="347.9" cy="2604.0" r="7" fill="#b40000" stroke="#340000" stroke-width="2.8"/>
<circle cx="378.7" cy="2601.2" r="7" fill="#b40000" stroke="#340000" stroke-width="2.8"/>
<circle cx="409.5" cy="2592.0" r="7" fill="#b40000" stroke="#340000" stroke-width="2.8"/>
<circle cx="440.3" cy="2592.0" r="7" fill="#b40000" stroke="#340000" stroke-width="2.8"/>
<circle cx="471.1" cy="2602.5" r="7" fill="#b40000" stroke="#340000" stroke-width="2.8"/>
<circle cx="501.9" cy="2609.0" r="7" fill="#b40000" stroke="#340000" stroke-width="2.8"/>
<circle cx="532.7" cy="2606.5" r="7" fill="#b40000" stroke="#340000" stroke-width="2.8"/>
<circle cx="563.5" cy="2605.0" r="7" fill="#b40000" stroke="#340000" stroke-width="2.8"/>
<circle cx="594.3" cy="2604.0" r="7" fill="#b40000" stroke="#340000" stroke-width="2.8"/>
<circle cx="625.1" cy="2610.0" r="7" fill="#b40000" stroke="#340000" stroke-width="2.8"/>
<circle cx="655.9" cy="2614.0" r="7" fill="#b40000" stroke="#340000" stroke-width="2.8"/>
<circle cx="686.7" cy="2594.4" r="7" fill="#b40000" stroke="#340000" stroke-width="2.8"/>
<circle cx="717.5" cy="2581.0" r="7" fill="#b40000" stroke="#340000" stroke-width="2.8"/>
<circle cx="748.3" cy="2602.5" r="7" fill="#b40000" stroke="#340000" stroke-width="2.8"/>
<circle cx="779.1" cy="2574.5" r="7" fill="#b40000" stroke="#340000" stroke-width="2.8"/>
<circle cx="809.9" cy="2562.0" r="7" fill="#b40000" stroke="#340000" stroke-width="2.8"/>
<circle cx="840.7" cy="2518.6" r="7" fill="#b40000" stroke="#340000" stroke-width="2.8"/>
<circle cx="871.5" cy="2430.0" r="7" fill="#b40000" stroke="#340000" stroke-width="2.8"/>
<circle cx="902.3" cy="2384.5" r="7" fill="#b40000" stroke="#340000" stroke-width="2.8"/>
<circle cx="933.1" cy="2313.8" r="7" fill="#b40000" stroke="#340000" stroke-width="2.8"/>
<circle cx="963.9" cy="2255.6" r="7" fill="#b40000" stroke="#340000" stroke-width="2.8"/>
<circle cx="994.7" cy="2210.0" r="7" fill="#b40000" stroke="#340000" stroke-width="2.8"/>
<circle cx="1025.5" cy="2207.6" r="7" fill="#b40000" stroke="#340000" stroke-width="2.8"/>
<circle cx="1056.4" cy="2255.6" r="7" fill="#b40000" stroke="#340000" stroke-width="2.8"/>
<circle cx="1087.2" cy="2335.5" r="7" fill="#b40000" stroke="#340000" stroke-width="2.8"/>
<circle cx="1118.0" cy="2399.7" r="7" fill="#b40000" stroke="#340000" stroke-width="2.8"/>
<circle cx="1148.8" cy="2432.6" r="7" fill="#b40000" stroke="#340000" stroke-width="2.8"/>
<circle cx="1179.6" cy="2466.5" r="7" fill="#b40000" stroke="#340000" stroke-width="2.8"/>
<circle cx="1210.4" cy="2480.6" r="7" fill="#b40000" stroke="#340000" stroke-width="2.8"/>
<circle cx="1241.2" cy="2503.4" r="7" fill="#b40000" stroke="#340000" stroke-width="2.8"/>
<circle cx="1272.0" cy="2538.8" r="7" fill="#b40000" stroke="#340000" stroke-width="2.8"/>
<circle cx="1302.8" cy="2499.8" r="7" fill="#b40000" stroke="#340000" stroke-width="2.8"/>
<circle cx="1333.6" cy="2476.6" r="7" fill="#b40000" stroke="#340000" stroke-width="2.8"/>
<circle cx="1364.4" cy="2484.7" r="7" fill="#b40000" stroke="#340000" stroke-width="2.8"/>
<circle cx="1395.2" cy="2515.0" r="7" fill="#b40000" stroke="#340000" stroke-width="2.8"/>
<circle cx="1426.0" cy="2527.1" r="7" fill="#b40000" stroke="#340000" stroke-width="2.8"/>
<circle cx="1456.8" cy="2515.0" r="7" fill="#b40000" stroke="#340000" stroke-width="2.8"/>
<circle cx="1487.6" cy="2518.6" r="7" fill="#b40000" stroke="#340000" stroke-width="2.8"/>
<circle cx="1518.4" cy="2530.2" r="7" fill="#b40000" stroke="#340000" stroke-width="2.8"/>
<circle cx="1549.2" cy="2548.9" r="7" fill="#b40000" stroke="#340000" stroke-width="2.8"/>
<circle cx="1580.0" cy="2575.7" r="7" fill="#b40000" stroke="#340000" stroke-width="2.8"/>
<circle cx="1610.8" cy="2575.7" r="7" fill="#b40000" stroke="#340000" stroke-width="2.8"/>
<circle cx="1641.6" cy="2591.9" r="7" fill="#b40000" stroke="#340000" stroke-width="2.8"/>
<circle cx="1672.4" cy="2609.6" r="7" fill="#b40000" stroke="#340000" stroke-width="2.8"/>
<circle cx="1703.2" cy="2634.9" r="7" fill="#b40000" stroke="#340000" stroke-width="2.8"/>
<circle cx="1734.0" cy="2652.6" r="7" fill="#b40000" stroke="#340000" stroke-width="2.8"/>
<circle cx="1764.8" cy="2670.3" r="7" fill="#b40000" stroke="#340000" stroke-width="2.8"/>
<circle cx="1795.6" cy="2680.4" r="7" fill="#b40000" stroke="#340000" stroke-width="2.8"/>
<path d="M265.4,2577.1L276.4,2578.4M295.9,2576.8L307.5,2573.7M326.0,2566.5L339.0,2560.0M357.8,2556.9L368.8,2558.6M388.7,2560.0L399.5,2560.0M417.8,2565.5L432.0,2575.0M450.3,2579.9L461.1,2579.1M480.9,2576.2L492.2,2573.6M511.5,2574.2L523.1,2577.6M541.7,2584.9L554.5,2591.1M572.6,2599.8L585.3,2605.7M603.5,2613.9L615.9,2619.1M634.2,2618.9L646.8,2613.1M664.4,2603.8L678.2,2595.2M696.2,2593.1L708.0,2596.9M727.4,2598.7L738.4,2597.3M754.6,2588.2L772.8,2565.8M785.0,2549.9L804.0,2524.1M814.2,2506.9L836.5,2459.4M843.5,2440.7L868.8,2353.6M873.6,2334.2L900.3,2208.8M904.1,2189.2L931.3,2040.3M935.0,2020.7L962.1,1872.8M966.5,1853.3L992.2,1755.7M1004.4,1743.5L1015.9,1740.5M1028.5,1747.5L1053.4,1827.0M1058.4,1846.3L1085.1,1971.2M1089.1,1990.8L1116.0,2127.2M1119.7,2146.9L1147.0,2304.1M1152.0,2323.5L1176.4,2395.5M1183.8,2414.0L1206.1,2461.5M1219.3,2474.9L1232.2,2481.3M1251.0,2483.8L1262.2,2481.5M1281.3,2476.1L1293.4,2471.5M1310.5,2461.7L1325.8,2449.0M1343.3,2445.1L1354.7,2447.9M1373.6,2446.5L1385.9,2441.4M1402.7,2444.2L1418.4,2457.9M1435.0,2468.9L1447.8,2475.2M1466.5,2481.8L1477.8,2484.5M1497.4,2488.3L1508.5,2490.2M1528.3,2490.6L1539.3,2489.4M1558.8,2490.9L1570.4,2494.1M1587.3,2503.6L1603.4,2518.3M1616.8,2533.1L1635.5,2557.6M1651.2,2568.3L1662.8,2571.5M1681.9,2577.3L1693.7,2581.2M1712.0,2589.1L1725.2,2596.2M1739.0,2609.7L1759.8,2646.3M1773.8,2659.4L1786.6,2665.9" fill="none" stroke="#000000" stroke-width="3.9" stroke-dasharray="0.6 11.2" stroke-linecap="round"/>
<path d="M255.5,2567.7L265.4,2584.2L245.6,2584.2Z" fill="#000"/>
<path d="M286.3,2571.2L296.2,2587.7L276.4,2587.7Z" fill="#000"/>
<path d="M317.1,2562.7L327.0,2579.2L307.2,2579.2Z" fill="#000"/>
<path d="M347.9,2547.2L357.8,2563.7L338.0,2563.7Z" fill="#000"/>
<path d="M378.7,2551.7L388.6,2568.2L368.8,2568.2Z" fill="#000"/>
<path d="M409.5,2551.7L419.4,2568.2L399.6,2568.2Z" fill="#000"/>
<path d="M440.3,2572.2L450.2,2588.7L430.4,2588.7Z" fill="#000"/>
<path d="M471.1,2570.2L481.0,2586.7L461.2,2586.7Z" fill="#000"/>
<path d="M501.9,2563.0L511.8,2579.5L492.0,2579.5Z" fill="#000"/>
<path d="M532.7,2572.2L542.6,2588.7L522.8,2588.7Z" fill="#000"/>
<path d="M563.5,2587.2L573.4,2603.7L553.6,2603.7Z" fill="#000"/>
<path d="M594.3,2601.7L604.2,2618.2L584.4,2618.2Z" fill="#000"/>
<path d="M625.1,2614.7L635.0,2631.2L615.2,2631.2Z" fill="#000"/>
<path d="M655.9,2600.7L665.8,2617.2L646.0,2617.2Z" fill="#000"/>
<path d="M686.7,2581.7L696.6,2598.2L676.8,2598.2Z" fill="#000"/>
<path d="M717.5,2591.7L727.4,2608.2L707.6,2608.2Z" fill="#000"/>
<path d="M748.3,2587.7L758.2,2604.2L738.4,2604.2Z" fill="#000"/>
<path d="M779.1,2549.7L789.0,2566.2L769.2,2566.2Z" fill="#000"/>
<path d="M809.9,2507.7L819.8,2524.2L800.0,2524.2Z" fill="#000"/>
<path d="M840.7,2442.0L850.6,2458.5L830.8,2458.5Z" fill="#000"/>
<path d="M871.5,2335.7L881.4,2352.2L861.6,2352.2Z" fill="#000"/>
<path d="M902.3,2190.7L912.2,2207.2L892.4,2207.2Z" fill="#000"/>
<path d="M933.1,2022.2L943.0,2038.7L923.2,2038.7Z" fill="#000"/>
<path d="M963.9,1854.7L973.8,1871.2L954.0,1871.2Z" fill="#000"/>
<path d="M994.7,1737.7L1004.6,1754.2L984.8,1754.2Z" fill="#000"/>
<path d="M1025.5,1729.7L1035.5,1746.2L1015.6,1746.2Z" fill="#000"/>
<path d="M1056.4,1828.2L1066.3,1844.7L1046.5,1844.7Z" fill="#000"/>
<path d="M1087.2,1972.7L1097.1,1989.2L1077.3,1989.2Z" fill="#000"/>
<path d="M1118.0,2128.7L1127.9,2145.2L1108.1,2145.2Z" fill="#000"/>
<path d="M1148.8,2305.7L1158.7,2322.2L1138.9,2322.2Z" fill="#000"/>
<path d="M1179.6,2396.7L1189.5,2413.2L1169.7,2413.2Z" fill="#000"/>
<path d="M1210.4,2462.2L1220.3,2478.7L1200.5,2478.7Z" fill="#000"/>
<path d="M1241.2,2477.4L1251.1,2493.9L1231.3,2493.9Z" fill="#000"/>
<path d="M1272.0,2471.3L1281.9,2487.8L1262.1,2487.8Z" fill="#000"/>
<path d="M1302.8,2459.7L1312.7,2476.2L1292.9,2476.2Z" fill="#000"/>
<path d="M1333.6,2434.4L1343.5,2450.9L1323.7,2450.9Z" fill="#000"/>
<path d="M1364.4,2442.0L1374.3,2458.5L1354.5,2458.5Z" fill="#000"/>
<path d="M1395.2,2429.3L1405.1,2445.8L1385.3,2445.8Z" fill="#000"/>
<path d="M1426.0,2456.2L1435.9,2472.7L1416.1,2472.7Z" fill="#000"/>
<path d="M1456.8,2471.3L1466.7,2487.8L1446.9,2487.8Z" fill="#000"/>
<path d="M1487.6,2478.4L1497.5,2494.9L1477.7,2494.9Z" fill="#000"/>
<path d="M1518.4,2483.5L1528.3,2500.0L1508.5,2500.0Z" fill="#000"/>
<path d="M1549.2,2479.9L1559.1,2496.4L1539.3,2496.4Z" fill="#000"/>
<path d="M1580.0,2488.5L1589.9,2505.0L1570.1,2505.0Z" fill="#000"/>
<path d="M1610.8,2516.8L1620.7,2533.3L1600.9,2533.3Z" fill="#000"/>
<path d="M1641.6,2557.3L1651.5,2573.8L1631.7,2573.8Z" fill="#000"/>
<path d="M1672.4,2565.9L1682.3,2582.4L1662.5,2582.4Z" fill="#000"/>
<path d="M1703.2,2576.0L1713.1,2592.5L1693.3,2592.5Z" fill="#000"/>
<path d="M1734.0,2592.7L1743.9,2609.2L1724.1,2609.2Z" fill="#000"/>
<path d="M1764.8,2646.7L1774.7,2663.2L1754.9,2663.2Z" fill="#000"/>
<path d="M1795.6,2662.0L1805.5,2678.5L1785.7,2678.5Z" fill="#000"/>
<path d="M265.1,2620.2L276.7,2623.5M296.1,2628.1L307.3,2630.1M326.8,2634.6L338.2,2637.6M357.9,2640.2L368.7,2640.2M387.3,2635.2L400.9,2627.2M419.4,2623.3L430.4,2624.5M449.6,2622.0L461.8,2617.3M480.2,2617.9L492.8,2623.8M511.1,2624.0L523.6,2618.4M542.4,2612.1L553.8,2609.3M573.0,2603.9L584.8,2600.1M603.3,2592.6L616.1,2586.4M634.0,2586.6L647.1,2593.4M665.9,2597.4L676.7,2596.6M694.7,2590.0L709.6,2578.6M726.7,2568.7L739.1,2563.3M758.0,2556.8L769.5,2553.8M789.1,2551.3L799.9,2551.3M819.8,2549.8L830.9,2548.0M850.4,2548.8L861.8,2551.6M879.9,2548.5L894.0,2539.2M912.3,2534.5L923.2,2535.5M943.1,2535.5L954.0,2534.5M973.8,2532.1L984.9,2530.3M1004.6,2530.3L1015.7,2532.1M1034.2,2538.7L1047.7,2546.4M1064.8,2546.1L1078.7,2537.5M1097.1,2531.1L1108.0,2529.8M1126.9,2533.1L1139.8,2539.4M1157.7,2539.4L1170.6,2533.1M1189.2,2531.4L1200.7,2534.6M1220.0,2534.6L1231.5,2531.4M1250.1,2533.1L1263.0,2539.4M1281.5,2546.9L1293.3,2550.9M1312.3,2550.9L1324.1,2546.9M1343.6,2543.8L1354.4,2543.8M1374.4,2543.3L1385.2,2542.8M1403.3,2536.4L1417.9,2525.9M1430.7,2528.8L1452.0,2567.9M1466.5,2574.3L1477.9,2571.5M1497.6,2569.1L1508.4,2569.1M1528.2,2570.7L1539.3,2572.6M1558.9,2576.6L1570.3,2579.4M1590.0,2581.8L1600.8,2581.8M1620.0,2585.6L1632.3,2590.6M1651.5,2596.0L1662.5,2597.9M1681.4,2595.1L1694.2,2588.7M1712.2,2588.7L1725.0,2595.1M1743.9,2597.9L1754.9,2596.0M1774.8,2594.4L1785.6,2594.4" fill="none" stroke="#5e5e38" stroke-width="2.5" stroke-dasharray="12 4 4 4"/>
<path d="M255.5,2625.7L263.9,2609.7L247.1,2609.7Z" fill="#161600" stroke="#7d7d12" stroke-width="1.3"/>
<path d="M286.3,2634.4L294.7,2618.4L277.9,2618.4Z" fill="#161600" stroke="#7d7d12" stroke-width="1.3"/>
<path d="M317.1,2640.2L325.5,2624.2L308.7,2624.2Z" fill="#161600" stroke="#7d7d12" stroke-width="1.3"/>
<path d="M347.9,2648.4L356.3,2632.4L339.5,2632.4Z" fill="#161600" stroke="#7d7d12" stroke-width="1.3"/>
<path d="M378.7,2648.4L387.1,2632.4L370.3,2632.4Z" fill="#161600" stroke="#7d7d12" stroke-width="1.3"/>
<path d="M409.5,2630.4L417.9,2614.4L401.1,2614.4Z" fill="#161600" stroke="#7d7d12" stroke-width="1.3"/>
<path d="M440.3,2633.8L448.7,2617.8L431.9,2617.8Z" fill="#161600" stroke="#7d7d12" stroke-width="1.3"/>
<path d="M471.1,2621.9L479.5,2605.9L462.7,2605.9Z" fill="#161600" stroke="#7d7d12" stroke-width="1.3"/>
<path d="M501.9,2636.2L510.3,2620.2L493.5,2620.2Z" fill="#161600" stroke="#7d7d12" stroke-width="1.3"/>
<path d="M532.7,2622.6L541.1,2606.6L524.3,2606.6Z" fill="#161600" stroke="#7d7d12" stroke-width="1.3"/>
<path d="M563.5,2615.2L571.9,2599.2L555.1,2599.2Z" fill="#161600" stroke="#7d7d12" stroke-width="1.3"/>
<path d="M594.3,2605.2L602.7,2589.2L585.9,2589.2Z" fill="#161600" stroke="#7d7d12" stroke-width="1.3"/>
<path d="M625.1,2590.2L633.5,2574.2L616.7,2574.2Z" fill="#161600" stroke="#7d7d12" stroke-width="1.3"/>
<path d="M655.9,2606.2L664.3,2590.2L647.5,2590.2Z" fill="#161600" stroke="#7d7d12" stroke-width="1.3"/>
<path d="M686.7,2604.2L695.1,2588.2L678.3,2588.2Z" fill="#161600" stroke="#7d7d12" stroke-width="1.3"/>
<path d="M717.5,2580.8L725.9,2564.8L709.1,2564.8Z" fill="#161600" stroke="#7d7d12" stroke-width="1.3"/>
<path d="M748.3,2567.6L756.7,2551.6L739.9,2551.6Z" fill="#161600" stroke="#7d7d12" stroke-width="1.3"/>
<path d="M779.1,2559.4L787.5,2543.4L770.7,2543.4Z" fill="#161600" stroke="#7d7d12" stroke-width="1.3"/>
<path d="M809.9,2559.6L818.3,2543.6L801.5,2543.6Z" fill="#161600" stroke="#7d7d12" stroke-width="1.3"/>
<path d="M840.7,2554.6L849.1,2538.6L832.3,2538.6Z" fill="#161600" stroke="#7d7d12" stroke-width="1.3"/>
<path d="M871.5,2562.2L879.9,2546.2L863.1,2546.2Z" fill="#161600" stroke="#7d7d12" stroke-width="1.3"/>
<path d="M902.3,2541.9L910.7,2525.9L893.9,2525.9Z" fill="#161600" stroke="#7d7d12" stroke-width="1.3"/>
<path d="M933.1,2544.5L941.5,2528.5L924.7,2528.5Z" fill="#161600" stroke="#7d7d12" stroke-width="1.3"/>
<path d="M963.9,2541.9L972.3,2525.9L955.5,2525.9Z" fill="#161600" stroke="#7d7d12" stroke-width="1.3"/>
<path d="M994.7,2536.9L1003.1,2520.9L986.3,2520.9Z" fill="#161600" stroke="#7d7d12" stroke-width="1.3"/>
<path d="M1025.5,2541.9L1034.0,2525.9L1017.1,2525.9Z" fill="#161600" stroke="#7d7d12" stroke-width="1.3"/>
<path d="M1056.4,2559.6L1064.8,2543.6L1048.0,2543.6Z" fill="#161600" stroke="#7d7d12" stroke-width="1.3"/>
<path d="M1087.2,2540.4L1095.6,2524.4L1078.8,2524.4Z" fill="#161600" stroke="#7d7d12" stroke-width="1.3"/>
<path d="M1118.0,2536.9L1126.4,2520.9L1109.6,2520.9Z" fill="#161600" stroke="#7d7d12" stroke-width="1.3"/>
<path d="M1148.8,2552.0L1157.2,2536.0L1140.4,2536.0Z" fill="#161600" stroke="#7d7d12" stroke-width="1.3"/>
<path d="M1179.6,2536.9L1188.0,2520.9L1171.2,2520.9Z" fill="#161600" stroke="#7d7d12" stroke-width="1.3"/>
<path d="M1210.4,2545.5L1218.8,2529.5L1202.0,2529.5Z" fill="#161600" stroke="#7d7d12" stroke-width="1.3"/>
<path d="M1241.2,2536.9L1249.6,2520.9L1232.8,2520.9Z" fill="#161600" stroke="#7d7d12" stroke-width="1.3"/>
<path d="M1272.0,2552.0L1280.4,2536.0L1263.6,2536.0Z" fill="#161600" stroke="#7d7d12" stroke-width="1.3"/>
<path d="M1302.8,2562.2L1311.2,2546.2L1294.4,2546.2Z" fill="#161600" stroke="#7d7d12" stroke-width="1.3"/>
<path d="M1333.6,2552.0L1342.0,2536.0L1325.2,2536.0Z" fill="#161600" stroke="#7d7d12" stroke-width="1.3"/>
<path d="M1364.4,2552.0L1372.8,2536.0L1356.0,2536.0Z" fill="#161600" stroke="#7d7d12" stroke-width="1.3"/>
<path d="M1395.2,2550.5L1403.6,2534.5L1386.8,2534.5Z" fill="#161600" stroke="#7d7d12" stroke-width="1.3"/>
<path d="M1426.0,2528.2L1434.4,2512.2L1417.6,2512.2Z" fill="#161600" stroke="#7d7d12" stroke-width="1.3"/>
<path d="M1456.8,2584.9L1465.2,2568.9L1448.4,2568.9Z" fill="#161600" stroke="#7d7d12" stroke-width="1.3"/>
<path d="M1487.6,2577.3L1496.0,2561.3L1479.2,2561.3Z" fill="#161600" stroke="#7d7d12" stroke-width="1.3"/>
<path d="M1518.4,2577.3L1526.8,2561.3L1510.0,2561.3Z" fill="#161600" stroke="#7d7d12" stroke-width="1.3"/>
<path d="M1549.2,2582.4L1557.6,2566.4L1540.8,2566.4Z" fill="#161600" stroke="#7d7d12" stroke-width="1.3"/>
<path d="M1580.0,2590.0L1588.4,2574.0L1571.6,2574.0Z" fill="#161600" stroke="#7d7d12" stroke-width="1.3"/>
<path d="M1610.8,2590.0L1619.2,2574.0L1602.4,2574.0Z" fill="#161600" stroke="#7d7d12" stroke-width="1.3"/>
<path d="M1641.6,2602.6L1650.0,2586.6L1633.2,2586.6Z" fill="#161600" stroke="#7d7d12" stroke-width="1.3"/>
<path d="M1672.4,2607.7L1680.8,2591.7L1664.0,2591.7Z" fill="#161600" stroke="#7d7d12" stroke-width="1.3"/>
<path d="M1703.2,2592.5L1711.6,2576.5L1694.8,2576.5Z" fill="#161600" stroke="#7d7d12" stroke-width="1.3"/>
<path d="M1734.0,2607.7L1742.4,2591.7L1725.6,2591.7Z" fill="#161600" stroke="#7d7d12" stroke-width="1.3"/>
<path d="M1764.8,2602.6L1773.2,2586.6L1756.4,2586.6Z" fill="#161600" stroke="#7d7d12" stroke-width="1.3"/>
<path d="M1795.6,2602.6L1804.0,2586.6L1787.2,2586.6Z" fill="#161600" stroke="#7d7d12" stroke-width="1.3"/>
</g>
<rect x="255.5" y="1599.1" width="1540.1" height="1221.4" fill="none" stroke="#000" stroke-width="5"/>
<path d="M255.5,2820.5v-27M255.5,1599.1v27M409.5,2820.5v-27M409.5,1599.1v27M563.5,2820.5v-27M563.5,1599.1v27M717.5,2820.5v-27M717.5,1599.1v27M871.5,2820.5v-27M871.5,1599.1v27M1025.5,2820.5v-27M1025.5,1599.1v27M1179.6,2820.5v-27M1179.6,1599.1v27M1333.6,2820.5v-27M1333.6,1599.1v27M1487.6,2820.5v-27M1487.6,1599.1v27M1641.6,2820.5v-27M1641.6,1599.1v27M1795.6,2820.5v-27M1795.6,1599.1v27M332.5,2820.5v-14M332.5,1599.1v14M486.5,2820.5v-14M486.5,1599.1v14M640.5,2820.5v-14M640.5,1599.1v14M794.5,2820.5v-14M794.5,1599.1v14M948.5,2820.5v-14M948.5,1599.1v14M1102.6,2820.5v-14M1102.6,1599.1v14M1256.6,2820.5v-14M1256.6,1599.1v14M1410.6,2820.5v-14M1410.6,1599.1v14M1564.6,2820.5v-14M1564.6,1599.1v14M1718.6,2820.5v-14M1718.6,1599.1v14M255.5,1599.1h27M1795.6,1599.1h-27M255.5,1751.8h27M1795.6,1751.8h-27M255.5,1904.4h27M1795.6,1904.4h-27M255.5,2057.1h27M1795.6,2057.1h-27M255.5,2209.8h27M1795.6,2209.8h-27M255.5,2362.5h27M1795.6,2362.5h-27M255.5,2515.1h27M1795.6,2515.1h-27M255.5,2667.8h27M1795.6,2667.8h-27M255.5,2820.5h27M1795.6,2820.5h-27M255.5,1675.4h14M1795.6,1675.4h-14M255.5,1828.1h14M1795.6,1828.1h-14M255.5,1980.8h14M1795.6,1980.8h-14M255.5,2133.5h14M1795.6,2133.5h-14M255.5,2286.1h14M1795.6,2286.1h-14M255.5,2438.8h14M1795.6,2438.8h-14M255.5,2591.5h14M1795.6,2591.5h-14M255.5,2744.2h14M1795.6,2744.2h-14" stroke="#000" stroke-width="5" fill="none"/>
<text transform="translate(231.0,1621.6) scale(1.0,1.04)" font-size="70" text-anchor="end">-5</text>
<text transform="translate(231.0,1774.3) scale(1.0,1.04)" font-size="70" text-anchor="end">-10</text>
<text transform="translate(231.0,1926.9) scale(1.0,1.04)" font-size="70" text-anchor="end">-15</text>
<text transform="translate(231.0,2079.6) scale(1.0,1.04)" font-size="70" text-anchor="end">-20</text>
<text transform="translate(231.0,2232.3) scale(1.0,1.04)" font-size="70" text-anchor="end">-25</text>
<text transform="translate(231.0,2385.0) scale(1.0,1.04)" font-size="70" text-anchor="end">-30</text>
<text transform="translate(231.0,2537.6) scale(1.0,1.04)" font-size="70" text-anchor="end">-35</text>
<text transform="translate(231.0,2690.3) scale(1.0,1.04)" font-size="70" text-anchor="end">-40</text>
<text transform="translate(231.0,2843.0) scale(1.0,1.04)" font-size="70" text-anchor="end">-45</text>
<text transform="translate(255.5,2900.5) scale(1.0,1.04)" font-size="70" text-anchor="middle">-5</text>
<text transform="translate(409.5,2900.5) scale(1.0,1.04)" font-size="70" text-anchor="middle">-4</text>
<text transform="translate(563.5,2900.5) scale(1.0,1.04)" font-size="70" text-anchor="middle">-3</text>
<text transform="translate(717.5,2900.5) scale(1.0,1.04)" font-size="70" text-anchor="middle">-2</text>
<text transform="translate(871.5,2900.5) scale(1.0,1.04)" font-size="70" text-anchor="middle">-1</text>
<text transform="translate(1025.5,2900.5) scale(1.0,1.04)" font-size="70" text-anchor="middle">0</text>
<text transform="translate(1179.6,2900.5) scale(1.0,1.04)" font-size="70" text-anchor="middle">1</text>
<text transform="translate(1333.6,2900.5) scale(1.0,1.04)" font-size="70" text-anchor="middle">2</text>
<text transform="translate(1487.6,2900.5) scale(1.0,1.04)" font-size="70" text-anchor="middle">3</text>
<text transform="translate(1641.6,2900.5) scale(1.0,1.04)" font-size="70" text-anchor="middle">4</text>
<text transform="translate(1795.6,2900.5) scale(1.0,1.04)" font-size="70" text-anchor="middle">5</text>
<text transform="translate(1025.0,2985.5) scale(1.0,1.03)" font-size="68.8" text-anchor="middle">Postion of Probe (mm)</text>
<text transform="translate(1024.0,3072.8) scale(1.045,1.0)" font-size="75" text-anchor="middle" style="font-family:'Liberation Serif', 'Times New Roman', serif">(b)</text>
<text transform="translate(76.4,2213.5) rotate(-90) scale(1.0,1.06)" font-size="68" text-anchor="middle">Phase of S<tspan font-size="47" dy="25">11</tspan><tspan dy="-25"> (dB)</tspan></text>
<path d="M1022.0,1735.5H2076.0" stroke="#000" stroke-width="4.6" stroke-dasharray="19.5 5 7 6.7"/>
<path d="M1026.0,2200.0H1929.0" stroke="#000" stroke-width="4.6" stroke-dasharray="19.5 5 7 6.7"/>
<path d="M1026.0,2386.0H1855.5" stroke="#000" stroke-width="4.6" stroke-dasharray="19.5 5 7 6.7"/>
<path d="M255.5,2617.3H2079.0" stroke="#000" stroke-width="4.6" stroke-dasharray="19.5 5 7 6.7"/>
<path d="M1831.4,2421.6V2576.6" stroke="#1c1c6c" stroke-width="3"/>
<path d="M1831.4,2392.6L1839.9,2423.6L1822.9,2423.6Z" fill="#00007a"/>
<path d="M1831.4,2605.6L1839.9,2574.6L1822.9,2574.6Z" fill="#00007a"/>
<path d="M1924.8,2230.7V2576.6" stroke="#1c1c6c" stroke-width="3"/>
<path d="M1924.8,2201.7L1933.3,2232.7L1916.3,2232.7Z" fill="#00007a"/>
<path d="M1924.8,2605.6L1933.3,2574.6L1916.3,2574.6Z" fill="#00007a"/>
<path d="M2028.6,1766.6V2576.6" stroke="#1c1c6c" stroke-width="3"/>
<path d="M2028.6,1737.6L2037.1,1768.6L2020.1,1768.6Z" fill="#00007a"/>
<path d="M2028.6,2605.6L2037.1,2574.6L2020.1,2574.6Z" fill="#00007a"/>
<text transform="translate(1903.0,2507.0) rotate(-90) scale(1.0,1.04)" font-size="68.2" text-anchor="middle">~8<tspan font-size="40" dy="-34">o</tspan></text>
<text transform="translate(2003.5,2428.0) rotate(-90) scale(1.0,1.04)" font-size="68.2" text-anchor="middle">~17<tspan font-size="40" dy="-34">o</tspan></text>
<text transform="translate(2094.0,2174.0) rotate(-90) scale(1.0,1.04)" font-size="68.2" text-anchor="middle">~30<tspan font-size="40" dy="-34">o</tspan></text>
<path d="M288,1753.7H341.7M393.3,1753.7H447" stroke="#1e1e72" stroke-width="2.4"/>
<rect x="361.0" y="1747.2" width="13" height="13" fill="#000028" stroke="#1a1aa8" stroke-width="2"/>
<text transform="translate(465.5,1777.4) scale(1.0,1.04)" font-size="70" text-anchor="start">w =</text>
<text transform="translate(888.0,1777.4) scale(1.0,1.04)" font-size="70" text-anchor="end">25.4 <tspan style="font-family:'Liberation Serif', 'Times New Roman', serif">μ</tspan>m</text>
<path d="M288,1841.9H341.7M393.3,1841.9H447" stroke="#781818" stroke-width="2.6" stroke-dasharray="12 6"/>
<circle cx="367.5" cy="1841.9" r="7" fill="#b40000" stroke="#340000" stroke-width="2.8"/>
<text transform="translate(465.5,1865.6) scale(1.0,1.04)" font-size="70" text-anchor="start">w =</text>
<text transform="translate(888.0,1865.6) scale(1.0,1.04)" font-size="70" text-anchor="end">50.8 <tspan style="font-family:'Liberation Serif', 'Times New Roman', serif">μ</tspan>m</text>
<path d="M288,1930H341.7M393.3,1930H447" stroke="#000000" stroke-width="3.9" stroke-dasharray="0.6 11.2" stroke-linecap="round" stroke-dashoffset="-2"/>
<path d="M367.5,1921.7L377.4,1938.2L357.6,1938.2Z" fill="#000"/>
<text transform="translate(465.5,1953.7) scale(1.0,1.04)" font-size="70" text-anchor="start">w =</text>
<text transform="translate(888.0,1953.7) scale(1.0,1.04)" font-size="70" text-anchor="end">101.6 <tspan style="font-family:'Liberation Serif', 'Times New Roman', serif">μ</tspan>m</text>
<path d="M288,2016H341.7M393.3,2016H447" stroke="#5e5e38" stroke-width="2.5" stroke-dasharray="12 4 4 4"/>
<path d="M367.5,2024.2L375.9,2008.2L359.1,2008.2Z" fill="#161600" stroke="#7d7d12" stroke-width="1.3"/>
<text transform="translate(465.5,2039.7) scale(1.0,1.04)" font-size="70" text-anchor="start">Without Crack</text>
</svg></body></html>
